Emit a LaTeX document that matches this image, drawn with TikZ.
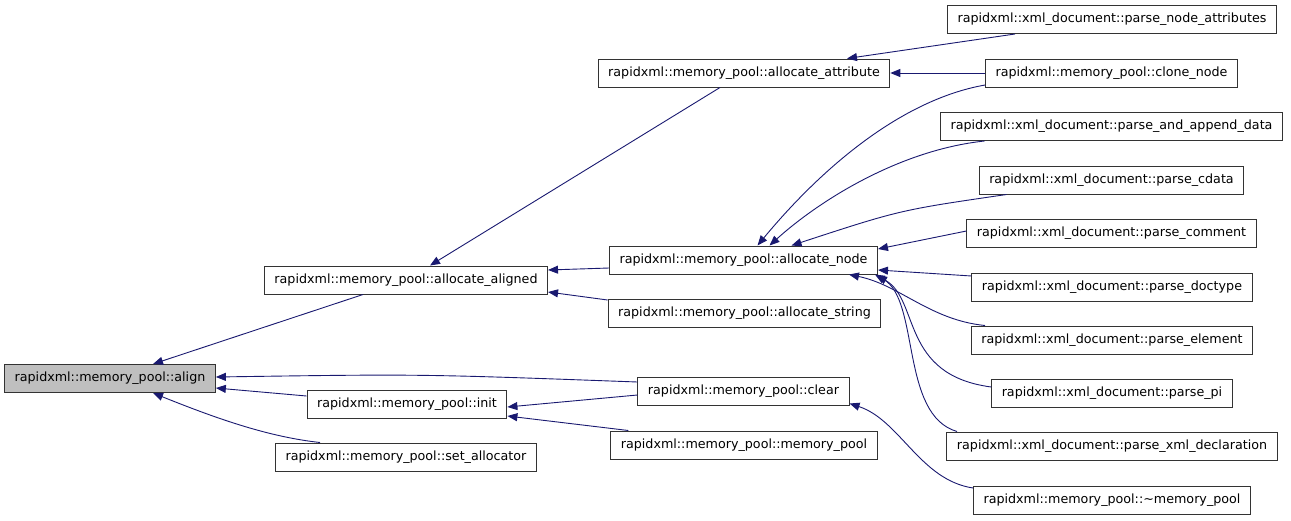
\documentclass[tikz,border=0pt]{standalone}
\usepackage{fontspec}
\setmainfont{DejaVu Sans}
\usetikzlibrary{arrows.meta}
\definecolor{navyline}{HTML}{191970}
\definecolor{hilite}{HTML}{BFBFBF}
\begin{document}
\begin{tikzpicture}[x=1pt,y=-1pt,
  fn/.style={draw=black!80,line width=1pt,fill=white,inner xsep=10pt,minimum height=28pt,font=\fontsize{12.7}{14}\selectfont},
  call/.style={draw=navyline,line width=0.9pt,>={Triangle[length=10pt,width=8pt]},<-}]
\useasboundingbox (0,0) rectangle (1291,520);
\node[fn,fill=hilite] (al) at (110,378.5) {rapidxml::memory\_pool::align};
\node[fn] (aa) at (406,280) {rapidxml::memory\_pool::allocate\_aligned};
\node[fn] (ini) at (407,404) {rapidxml::memory\_pool::init};
\node[fn] (sa) at (406,457) {rapidxml::memory\_pool::set\_allocator};
\node[fn] (aat) at (744,73) {rapidxml::memory\_pool::allocate\_attribute};
\node[fn] (an) at (743.5,260) {rapidxml::memory\_pool::allocate\_node};
\node[fn] (as) at (744.5,313) {rapidxml::memory\_pool::allocate\_string};
\node[fn] (cl) at (743.5,391) {rapidxml::memory\_pool::clear};
\node[fn] (mp) at (744,445) {rapidxml::memory\_pool::memory\_pool};
\node[fn] (pna) at (1112,19.5) {rapidxml::xml\_document::parse\_node\_attributes};
\node[fn] (cn) at (1111.5,73) {rapidxml::memory\_pool::clone\_node};
\node[fn] (pad) at (1111.5,126.5) {rapidxml::xml\_document::parse\_and\_append\_data};
\node[fn] (pc) at (1111.5,180) {rapidxml::xml\_document::parse\_cdata};
\node[fn] (pcm) at (1111.5,233) {rapidxml::xml\_document::parse\_comment};
\node[fn] (pd) at (1112,287) {rapidxml::xml\_document::parse\_doctype};
\node[fn] (pe) at (1112,340) {rapidxml::xml\_document::parse\_element};
\node[fn] (ppi) at (1112,393) {rapidxml::xml\_document::parse\_pi};
\node[fn] (pxd) at (1112,446) {rapidxml::xml\_document::parse\_xml\_declaration};
\node[fn] (dmp) at (1112,500) {rapidxml::memory\_pool::\textasciitilde memory\_pool};
\draw[call] ([xshift=43pt]al.north) -- ([xshift=-43pt]aa.south);
\draw[call] ([yshift=1.5pt]al.east) .. controls (420,374) .. ([yshift=9pt]cl.west);
\draw[call] ([yshift=-9.5pt]al.east) -- ([yshift=8pt]ini.west);
\draw[call] ([xshift=43pt]al.south) .. controls (220,420) and (270,437) .. ([xshift=-86pt]sa.north);
\draw[call] ([yshift=10pt]aa.east) -- ([yshift=-8pt]an.west);
\draw[call] ([yshift=-12pt]aa.east) -- ([yshift=13pt]as.west);
\draw[call] ([xshift=24pt]aa.north) -- ([xshift=-24pt]aat.south);
\draw[call] ([xshift=103pt]aat.north) -- ([xshift=-97pt]pna.south);
\draw[call] (aat.east) -- (cn.west);
\draw[call] ([xshift=14pt]an.north) .. controls (820,170) and (900,100) .. ([yshift=-12pt]cn.west);
\draw[call] ([xshift=26pt]an.north) .. controls (820,200) and (900,150) .. ([xshift=-127pt]pad.south);
\draw[call] ([xshift=48pt]an.north) .. controls (900,210) .. ([xshift=-105pt]pc.south);
\draw[call] ([yshift=11pt]an.east) -- ([yshift=2pt]pcm.west);
\draw[call] ([yshift=-10pt]an.east) -- ([yshift=11pt]pd.west);
\draw[call] ([xshift=-29pt]an.south east) .. controls (900,285) and (930,320) .. ([xshift=-127pt]pe.north);
\draw[call] ([xshift=-1pt,yshift=-1pt]an.south east) .. controls (920,300) and (900,375) .. ([yshift=6pt]ppi.west);
\draw[call] ([xshift=-3pt]an.south east) .. controls (920,300) and (900,415) .. ([xshift=-155pt]pxd.north);
\draw[call] ([yshift=-3pt]ini.east) -- ([yshift=-4pt]cl.west);
\draw[call] ([yshift=-12pt]ini.east) -- ([xshift=18pt]mp.north west);
\draw[call] ([yshift=2pt]cl.south east) .. controls (900,420) and (920,480) .. ([yshift=12pt]dmp.west);
\end{tikzpicture}
\end{document}
